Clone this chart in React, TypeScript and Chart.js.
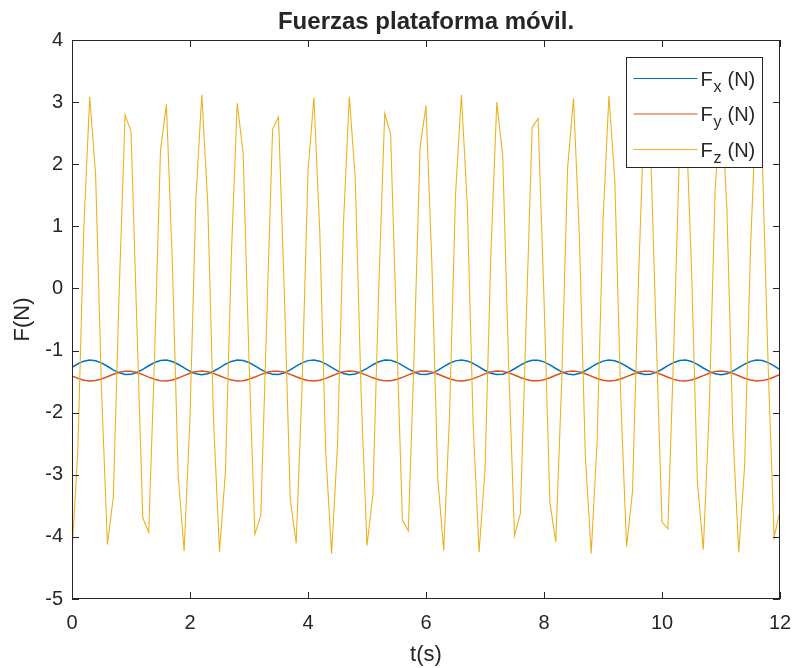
import React, { useEffect, useRef } from 'react';
import { Chart, registerables } from 'chart.js';

Chart.register(...registerables);

const T = [
  0, 0.1, 0.2, 0.3, 0.4, 0.5, 0.6, 0.7, 0.8, 0.9,
  1, 1.1, 1.2, 1.3, 1.4, 1.5, 1.6, 1.7, 1.8, 1.9,
  2, 2.1, 2.2, 2.3, 2.4, 2.5, 2.6, 2.7, 2.8, 2.9,
  3, 3.1, 3.2, 3.3, 3.4, 3.5, 3.6, 3.7, 3.8, 3.9,
  4, 4.1, 4.2, 4.3, 4.4, 4.5, 4.6, 4.7, 4.8, 4.9,
  5, 5.1, 5.2, 5.3, 5.4, 5.5, 5.6, 5.7, 5.8, 5.9,
  6, 6.1, 6.2, 6.3, 6.4, 6.5, 6.6, 6.7, 6.8, 6.9,
  7, 7.1, 7.2, 7.3, 7.4, 7.5, 7.6, 7.7, 7.8, 7.9,
  8, 8.1, 8.2, 8.3, 8.4, 8.5, 8.6, 8.7, 8.8, 8.9,
  9, 9.1, 9.2, 9.3, 9.4, 9.5, 9.6, 9.7, 9.8, 9.9,
  10, 10.1, 10.2, 10.3, 10.4, 10.5, 10.6, 10.7, 10.8, 10.9,
  11, 11.1, 11.2, 11.3, 11.4, 11.5, 11.6, 11.7, 11.8, 11.9,
  12,
];

const FX = [
  -1.27, -1.213, -1.171, -1.152, -1.163, -1.199, -1.253, -1.311, -1.359, -1.385,
  -1.383, -1.353, -1.303, -1.245, -1.192, -1.159, -1.153, -1.176, -1.221, -1.279,
  -1.334, -1.374, -1.388, -1.373, -1.333, -1.278, -1.22, -1.175, -1.153, -1.16,
  -1.193, -1.246, -1.304, -1.354, -1.383, -1.385, -1.359, -1.31, -1.252, -1.199,
  -1.162, -1.152, -1.171, -1.214, -1.271, -1.327, -1.37, -1.388, -1.377, -1.34,
  -1.286, -1.228, -1.18, -1.154, -1.157, -1.187, -1.238, -1.296, -1.348, -1.381,
  -1.387, -1.364, -1.318, -1.26, -1.205, -1.166, -1.152, -1.167, -1.208, -1.263,
  -1.321, -1.366, -1.387, -1.38, -1.346, -1.293, -1.235, -1.185, -1.156, -1.155,
  -1.182, -1.231, -1.289, -1.342, -1.378, -1.388, -1.368, -1.325, -1.268, -1.212,
  -1.17, -1.152, -1.164, -1.201, -1.255, -1.313, -1.361, -1.386, -1.383, -1.352,
  -1.301, -1.243, -1.191, -1.159, -1.154, -1.177, -1.223, -1.281, -1.336, -1.375,
  -1.388, -1.372, -1.332, -1.276, -1.219, -1.174, -1.153, -1.16, -1.195, -1.248,
  -1.306,
];

const FY = [
  -1.41, -1.448, -1.477, -1.49, -1.483, -1.458, -1.421, -1.382, -1.349, -1.332,
  -1.333, -1.354, -1.388, -1.427, -1.463, -1.485, -1.489, -1.474, -1.443, -1.404,
  -1.366, -1.34, -1.33, -1.34, -1.367, -1.405, -1.444, -1.474, -1.489, -1.485,
  -1.462, -1.427, -1.387, -1.353, -1.333, -1.332, -1.35, -1.383, -1.422, -1.458,
  -1.483, -1.49, -1.477, -1.448, -1.409, -1.371, -1.342, -1.33, -1.338, -1.363,
  -1.399, -1.439, -1.471, -1.488, -1.487, -1.466, -1.432, -1.392, -1.357, -1.335,
  -1.331, -1.347, -1.378, -1.417, -1.454, -1.481, -1.49, -1.48, -1.452, -1.415,
  -1.376, -1.345, -1.331, -1.335, -1.359, -1.394, -1.434, -1.467, -1.487, -1.488,
  -1.47, -1.437, -1.397, -1.361, -1.337, -1.33, -1.343, -1.373, -1.411, -1.45,
  -1.478, -1.49, -1.482, -1.457, -1.42, -1.381, -1.349, -1.332, -1.334, -1.355,
  -1.389, -1.429, -1.464, -1.486, -1.489, -1.473, -1.442, -1.403, -1.365, -1.339,
  -1.33, -1.341, -1.368, -1.406, -1.445, -1.475, -1.489, -1.484, -1.461, -1.425,
  -1.386,
];

const FZ = [
  -4.27, -2.572, 0.963, 3.083, 1.84, -1.623, -4.123, -3.36, -0.037, 2.791,
  2.525, -0.592, -3.693, -3.928, -1.08, 2.232, 2.964, 0.442, -3.015, -4.228,
  -2.083, 1.449, 3.12, 1.394, -2.142, -4.238, -2.965, 0.505, 2.982, 2.189,
  -1.145, -3.955, -3.657, -0.527, 2.561, 2.764, -0.102, -3.403, -4.104, -1.561,
  1.889, 3.073, 0.904, -2.626, -4.269, -2.516, 1.022, 3.091, 1.791, -1.685,
  -4.14, -3.317, 0.028, 2.817, 2.49, -0.656, -3.728, -3.9, -1.015, 2.275,
  2.944, 0.381, -3.064, -4.218, -2.023, 1.504, 3.119, 1.338, -2.201, -4.246,
  -2.915, 0.567, 3.0, 2.145, -1.21, -3.981, -3.621, -0.46, 2.595, 2.736,
  -0.167, -3.445, -4.084, -1.497, 1.937, 3.062, 0.842, -2.68, -4.268, -2.46,
  1.08, 3.099, 1.744, -1.748, -4.157, -3.273, 0.092, 2.842, 2.453, -0.723,
  -3.761, -3.871, -0.95, 2.314, 2.925, 0.318, -3.112, -4.206, -1.962, 1.557,
  3.117, 1.282, -2.259, -4.252, -2.864, 0.63, 3.016, 2.101, -1.275, -4.005,
  -3.583,
];

const SERIES_NAMES = ['x', 'y', 'z'];
const SERIES_COLORS = ['#0072BD', '#D95319', '#EDB120'];
const TITLE = 'Fuerzas plataforma móvil.';
const X_LABEL = 't(s)';
const Y_LABEL = 'F(N)';

const FONT = '"Liberation Sans", Arial, Helvetica, sans-serif';
const INK = '#262626';

const toPoints = (ys: number[]) => ys.map((y, i) => ({ x: T[i], y }));

const matlabFrame = {
  id: 'matlabFrame',
  afterDraw(chart: any) {
    const ctx = chart.ctx as CanvasRenderingContext2D;
    const { left, right, top, bottom } = chart.chartArea;
    const xs = chart.scales.x;
    const ys = chart.scales.y;
    ctx.save();

    // axes box
    ctx.strokeStyle = INK;
    ctx.lineWidth = 1;
    ctx.strokeRect(Math.round(left) + 0.5, Math.round(top) + 0.5, Math.round(right - left) - 1, Math.round(bottom - top) - 1);

    // inward ticks
    const tl = 7;
    ctx.beginPath();
    xs.ticks.forEach((t: any) => {
      const px = Math.round(xs.getPixelForValue(t.value)) + 0.5;
      ctx.moveTo(px, bottom);
      ctx.lineTo(px, bottom - tl);
      ctx.moveTo(px, top);
      ctx.lineTo(px, top + tl);
    });
    ys.ticks.forEach((t: any) => {
      const py = Math.round(ys.getPixelForValue(t.value)) + 0.5;
      ctx.moveTo(left, py);
      ctx.lineTo(left + tl, py);
      ctx.moveTo(right, py);
      ctx.lineTo(right - tl, py);
    });
    ctx.stroke();

    // title
    ctx.fillStyle = INK;
    ctx.font = `bold 24px ${FONT}`;
    ctx.textAlign = 'center';
    ctx.textBaseline = 'alphabetic';
    ctx.fillText(TITLE, (left + right) / 2, 29);

    // axis titles
    ctx.font = `22px ${FONT}`;
    ctx.textBaseline = 'middle';
    ctx.fillText(X_LABEL, (left + right) / 2, 655);
    ctx.save();
    ctx.translate(23, (top + bottom) / 2);
    ctx.rotate(-Math.PI / 2);
    ctx.fillText(Y_LABEL, 0, 0);
    ctx.restore();

    // legend (inside, north-east)
    const bw = 136;
    const bh = 110;
    const bx = Math.round(right - 18 - bw) + 0.5;
    const by = Math.round(top + 17) + 0.5;
    ctx.fillStyle = '#ffffff';
    ctx.fillRect(bx, by, bw, bh);
    ctx.strokeStyle = INK;
    ctx.lineWidth = 1;
    ctx.strokeRect(bx, by, bw, bh);
    SERIES_NAMES.forEach((name, i) => {
      const ly = by + 21 + i * 35.5;
      ctx.strokeStyle = SERIES_COLORS[i];
      ctx.lineWidth = 1.2;
      ctx.beginPath();
      ctx.moveTo(bx + 7, ly);
      ctx.lineTo(bx + 71, ly);
      ctx.stroke();
      ctx.fillStyle = INK;
      ctx.textAlign = 'left';
      ctx.textBaseline = 'alphabetic';
      ctx.font = `20px ${FONT}`;
      ctx.fillText('F', bx + 74, ly + 7);
      ctx.font = `16px ${FONT}`;
      ctx.fillText(name, bx + 87, ly + 13);
      ctx.font = `20px ${FONT}`;
      ctx.fillText('(N)', bx + 101, ly + 7);
    });

    ctx.restore();
  },
};

export default function App() {
  const ref = useRef<HTMLCanvasElement | null>(null);

  useEffect(() => {
    if (!ref.current) return;
    const chart = new Chart(ref.current, {
      type: 'line',
      data: {
        datasets: [
          { label: 'Fx (N)', data: toPoints(FX), borderColor: SERIES_COLORS[0], borderWidth: 1.5, order: 3 },
          { label: 'Fy (N)', data: toPoints(FY), borderColor: SERIES_COLORS[1], borderWidth: 1.5, order: 2 },
          { label: 'Fz (N)', data: toPoints(FZ), borderColor: SERIES_COLORS[2], borderWidth: 1.1, order: 1 },
        ],
      },
      options: {
        animation: false,
        responsive: false,
        maintainAspectRatio: false,
        devicePixelRatio: 1,
        layout: { padding: { top: 40, right: 15, left: 0, bottom: 0 } },
        elements: { point: { radius: 0 }, line: { tension: 0, fill: false } },
        plugins: {
          legend: { display: false },
          tooltip: { enabled: false },
          title: { display: false },
        },
        scales: {
          x: {
            type: 'linear',
            min: 0,
            max: 12,
            afterFit: (s: any) => { s.height = 69; s.paddingLeft = 0; s.paddingRight = 0; },
            grid: { display: false, drawTicks: false },
            border: { display: false },
            ticks: { stepSize: 2, color: INK, font: { family: FONT, size: 20 }, padding: 12, maxRotation: 0, autoSkip: false },
          },
          y: {
            type: 'linear',
            min: -5,
            max: 4,
            afterFit: (s: any) => { s.width = 72; s.paddingTop = 0; s.paddingBottom = 0; },
            grid: { display: false, drawTicks: false },
            border: { display: false },
            ticks: { stepSize: 1, color: INK, font: { family: FONT, size: 20 }, padding: 9, autoSkip: false },
          },
        },
      },
      plugins: [matlabFrame],
    } as any);
    return () => chart.destroy();
  }, []);

  return (
    <div style={{ position: 'absolute', left: 0, top: 0, width: 795, height: 668, background: '#ffffff' }}>
      <canvas ref={ref} width={795} height={668} style={{ display: 'block' }} />
    </div>
  );
}
